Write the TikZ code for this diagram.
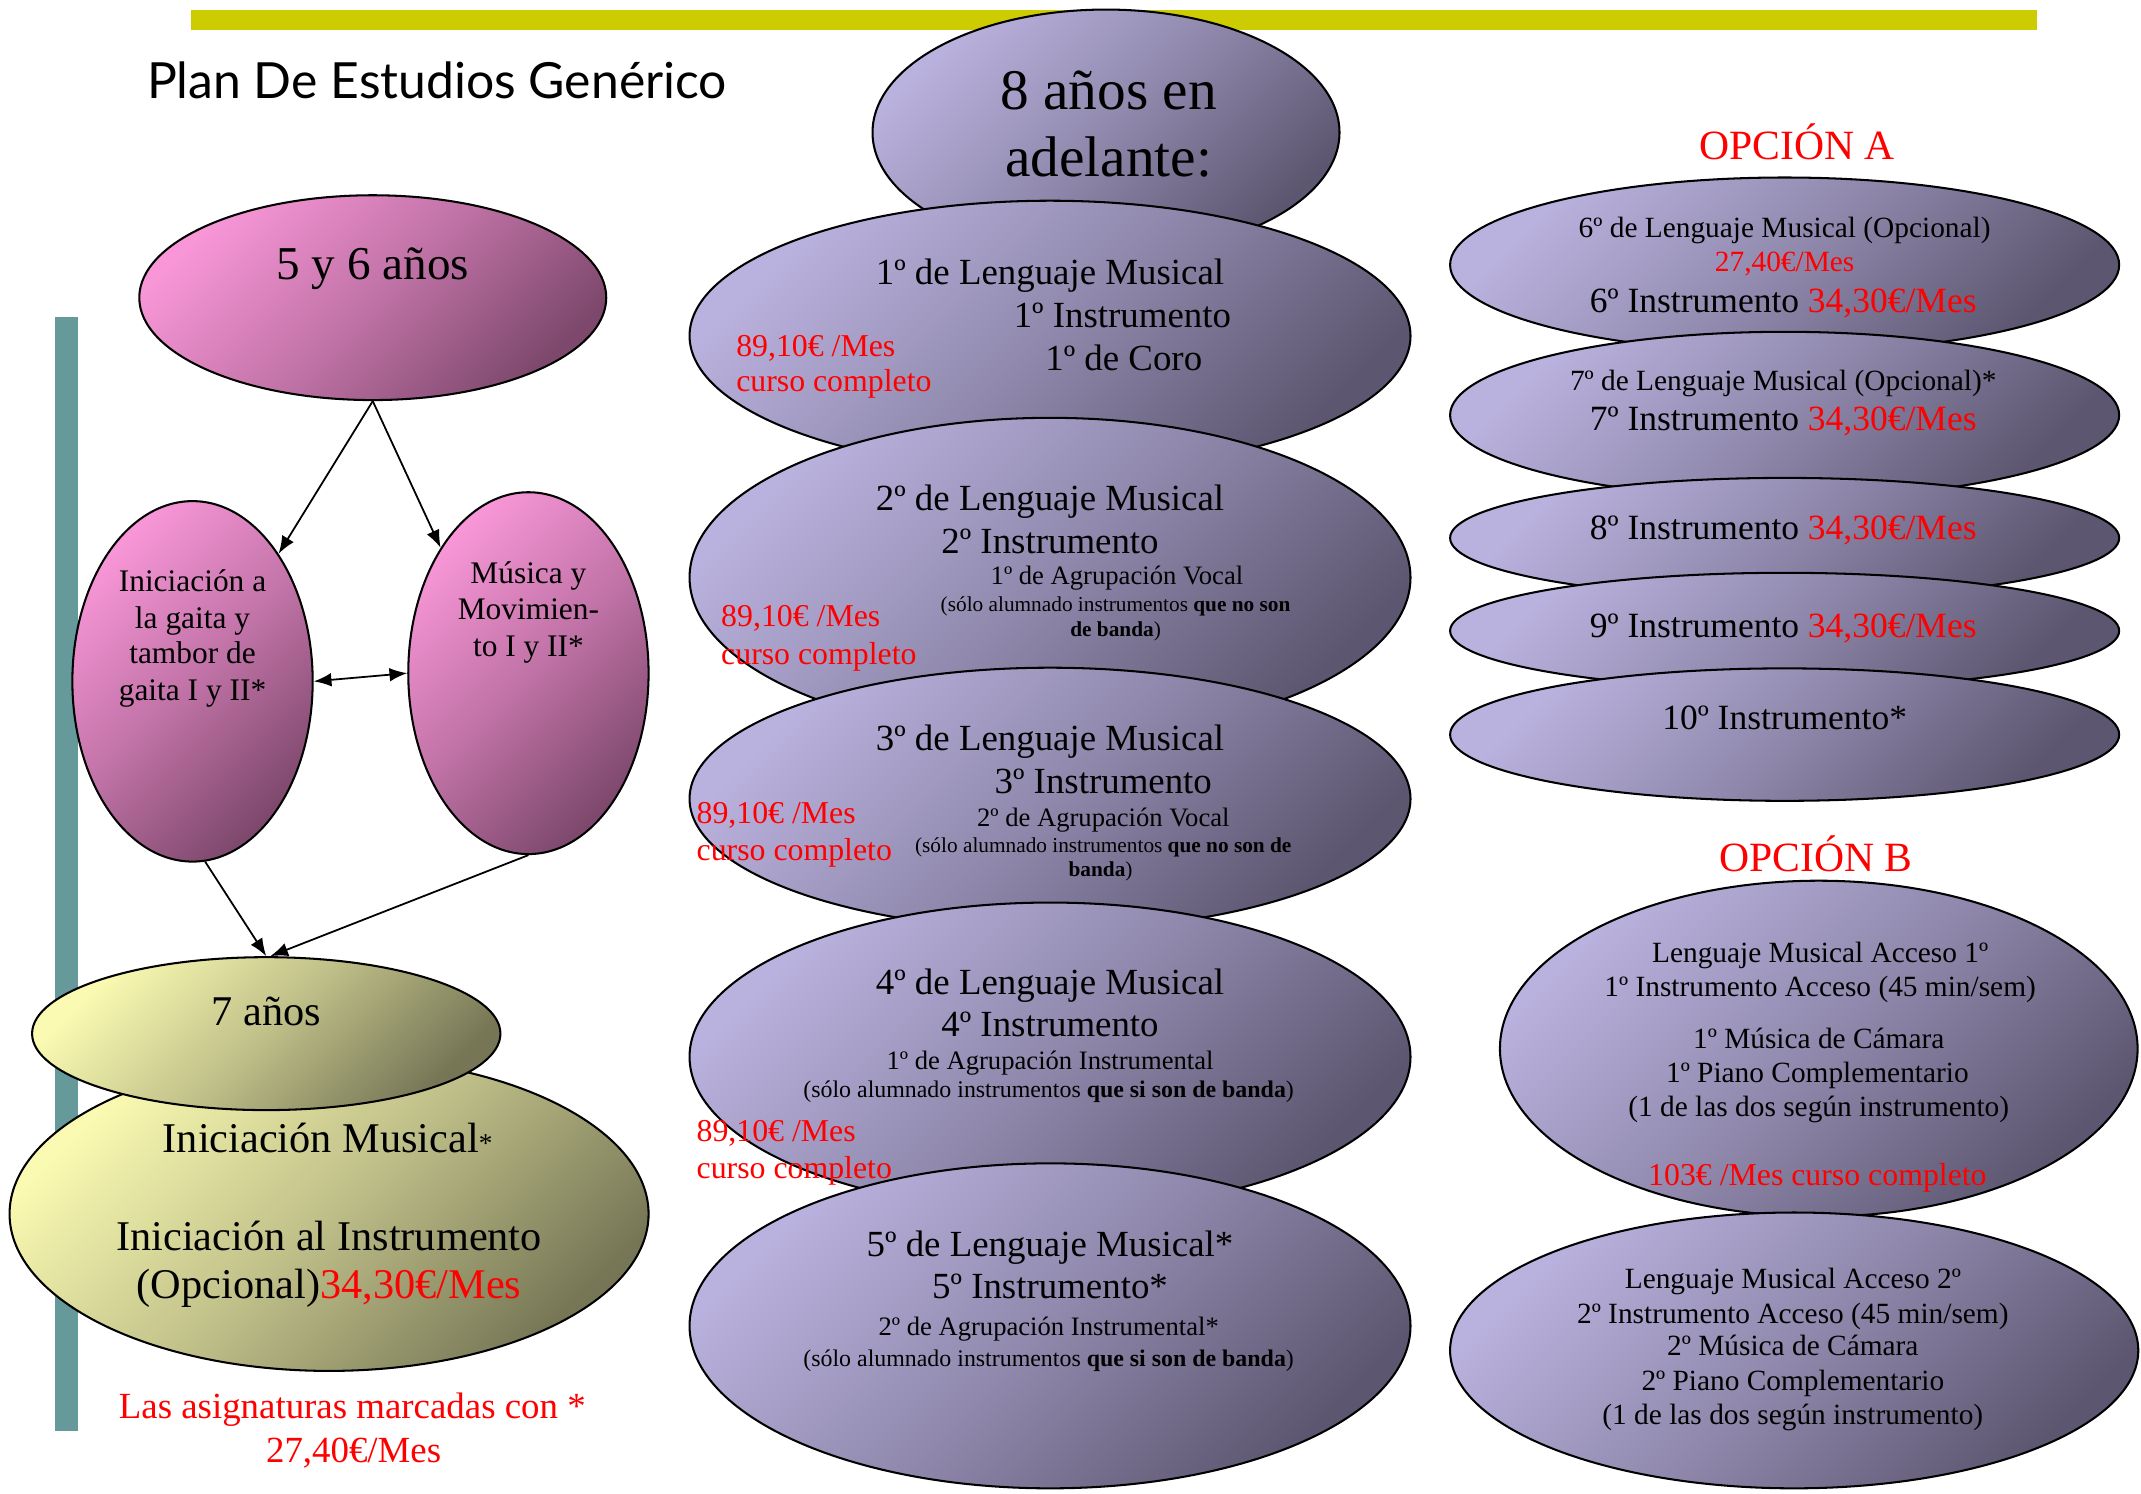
\documentclass[tikz,border=0pt]{standalone}
\usepackage{fontspec}
\setmainfont{Liberation Serif}
\newfontfamily\titlefont{Lato}
\usetikzlibrary{shapes.geometric,arrows.meta}
\definecolor{pinkL}{RGB}{248,150,215}
\definecolor{pinkD}{RGB}{125,72,108}
\definecolor{purL}{RGB}{186,178,222}
\definecolor{purD}{RGB}{92,86,112}
\definecolor{yelL}{RGB}{250,250,178}
\definecolor{yelD}{RGB}{118,118,86}
\definecolor{barY}{RGB}{204,204,0}
\definecolor{tealB}{RGB}{102,153,153}
\definecolor{redT}{RGB}{255,0,0}
\newcommand\myfs[1]{\fontsize{#1}{#1}\selectfont}
\tikzset{
  ell/.style={ellipse, draw=black, line width=1.5pt, inner sep=0pt},
  pinkE/.style={ell, top color=pinkL, bottom color=pinkD, middle color=pinkL!55!pinkD, shading angle=45},
  purE/.style={ell, top color=purL, bottom color=purD, middle color=purL!55!purD, shading angle=45},
  yelE/.style={ell, top color=yelL, bottom color=yelD, middle color=yelL!55!yelD, shading angle=45},
  t/.style={anchor=base, inner sep=0pt, align=center},
  tl/.style={anchor=base west, inner sep=0pt, text=redT, font=\myfs{23.3}},
  big/.style={font=\myfs{27}},
  mid/.style={font=\myfs{21.5}},
  sml/.style={font=\myfs{19.5}},
  tiny/.style={font=\myfs{15.6}},
  tinyb/.style={font=\myfs{17.5}},
  opt/.style={font=\myfs{26}},
  arr/.style={line width=1.3pt, -{Latex[length=13pt,width=10pt]}},
  arrb/.style={line width=1.3pt, {Latex[length=13pt,width=10pt]}-{Latex[length=13pt,width=10pt]}},
}
\begin{document}
\begin{tikzpicture}[x=1pt,y=-1pt]
\useasboundingbox (0,0) rectangle (1568,1094);
% bars
\fill[barY] (140,7) rectangle (1492,22);
\fill[tealB] (40,232) rectangle (57,1048);
\node[t, font=\titlefont\myfs{36.5}] (title) at (320,72) {Plan De Estudios Genérico};
% left part
\node[pinkE, minimum width=342pt, minimum height=150pt] (s56) at (273,218) {};
\node[pinkE, minimum width=176pt, minimum height=264pt] (L) at (141,499) {};
\node[pinkE, minimum width=176pt, minimum height=265pt] (R) at (387,493) {};
\node[yelE, minimum width=468pt, minimum height=230pt] (IM) at (241,889) {};
\node[yelE, minimum width=343pt, minimum height=112pt] (a7) at (195,757) {};
% middle column
\node[purE, minimum width=342pt, minimum height=180pt] (a8) at (810,97) {};
\node[purE, minimum width=528pt, minimum height=198pt] (E1) at (769,246) {};
\node[purE, minimum width=528pt, minimum height=234pt] (E2) at (769,423) {};
\node[purE, minimum width=528pt, minimum height=192pt] (E3) at (769,585) {};
\node[purE, minimum width=528pt, minimum height=226pt] (E4) at (769,774) {};
\node[purE, minimum width=528pt, minimum height=238pt] (E5) at (769,971) {};
% option A
\node[purE, minimum width=490pt, minimum height=128pt] (A1) at (1307,194) {};
\node[purE, minimum width=490pt, minimum height=122pt] (A2) at (1307,304) {};
\node[purE, minimum width=490pt, minimum height=88pt] (A3) at (1307,394) {};
\node[purE, minimum width=490pt, minimum height=85pt] (A4) at (1307,462) {};
\node[purE, minimum width=490pt, minimum height=97pt] (A5) at (1307,538) {};
% option B
\node[purE, minimum width=467pt, minimum height=246pt] (B1) at (1332,768) {};
\node[purE, minimum width=504pt, minimum height=202pt] (B2) at (1314,989) {};
% arrows
\draw[arr] (s56.south) -- (L.56);
\draw[arr] (s56.south) -- (R.125);
\draw[arrb] (L.east) -- (R.west);
\draw[arr] (L.-86) -- (a7.north);
\draw[arr] (R.south) -- (a7.87);
% texts left
\node[t, font=\myfs{34.5}] (t56) at (273,205) {5 y 6 años};
\node[t, font=\myfs{23}] (tL1) at (141,433) {Iniciación a};
\node[t, font=\myfs{23}] (tL2) at (141,460) {la gaita y};
\node[t, font=\myfs{23}] (tL3) at (141,486) {tambor de};
\node[t, font=\myfs{23}] (tL4) at (141,513) {gaita I y II*};
\node[t, font=\myfs{23}] (tR1) at (387,427) {Música y};
\node[t, font=\myfs{23}] (tR2) at (387,454) {Movimien-};
\node[t, font=\myfs{23}] (tR3) at (387,481) {to I y II*};
\node[t, font=\myfs{31}] (t7) at (195,751) {7 años};
\node[t, font=\myfs{31}] (tIM1) at (240,844) {Iniciación Musical{\myfs{20}*}};
\node[t, font=\myfs{31}] (tIM2) at (241,916) {Iniciación al Instrumento};
\node[t, font=\myfs{31}] (tIM3) at (241,951) {(Opcional){\color{redT}34,30€/Mes}};
\node[t, font=\myfs{27}, text=redT] (note1) at (258,1039) {Las asignaturas marcadas con *};
\node[t, font=\myfs{27}, text=redT] (note2) at (259,1071) {27,40€/Mes};
% texts middle
\node[t, font=\myfs{42}] (t8a) at (812,80) {8 años en};
\node[t, font=\myfs{42}] (t8b) at (812,129) {adelante:};
\node[t, big] (e1a) at (769,208) {1º de Lenguaje Musical};
\node[t, big] (e1b) at (822,240) {1º Instrumento};
\node[t, big] (e1c) at (823,271) {1º de Coro};
\node[tl] (r1a) at (539,261) {89,10€ /Mes};
\node[tl] (r1b) at (539,287) {curso completo};
\node[t, big] (e2a) at (769,374) {2º de Lenguaje Musical};
\node[t, big] (e2b) at (769,405) {2º Instrumento};
\node[t, sml] (e2c) at (818,428) {1º de Agrupación Vocal};
\node[t, tiny] (e2d) at (817,448) {(sólo alumnado instrumentos \textbf{que no son}};
\node[t, tiny] (e2e) at (817,466) {\textbf{de banda})};
\node[tl] (r2a) at (528,459) {89,10€ /Mes};
\node[tl] (r2b) at (528,487) {curso completo};
\node[t, big] (e3a) at (769,550) {3º de Lenguaje Musical};
\node[t, big] (e3b) at (808,581) {3º Instrumento};
\node[t, sml] (e3c) at (808,605) {2º de Agrupación Vocal};
\node[t, tiny] (e3d) at (808,624) {(sólo alumnado instrumentos \textbf{que no son de}};
\node[t, tiny] (e3e) at (806,642) {\textbf{banda})};
\node[tl] (r3a) at (510,603) {89,10€ /Mes};
\node[tl] (r3b) at (510,630) {curso completo};
\node[t, big] (e4a) at (769,728) {4º de Lenguaje Musical};
\node[t, big] (e4b) at (769,759) {4º Instrumento};
\node[t, sml] (e4c) at (769,783) {1º de Agrupación Instrumental};
\node[t, tinyb] (e4d) at (768,804) {(sólo alumnado instrumentos \textbf{que si son de banda})};
\node[tl] (r4a) at (510,836) {89,10€ /Mes};
\node[tl] (r4b) at (510,863) {curso completo};
\node[t, big] (e5a) at (769,920) {5º de Lenguaje Musical*};
\node[t, big] (e5b) at (769,951) {5º Instrumento*};
\node[t, sml] (e5c) at (768,978) {2º de Agrupación Instrumental*};
\node[t, tinyb] (e5d) at (768,1001) {(sólo alumnado instrumentos \textbf{que si son de banda})};
% option A texts
\node[t, font=\myfs{30.5}, text=redT] (oa) at (1316,117) {OPCIÓN A};
\node[t, mid] (a1a) at (1307,174) {6º de Lenguaje Musical (Opcional)};
\node[t, mid, text=redT] (a1b) at (1307,199) {27,40€/Mes};
\node[t, opt] (a1c) at (1306,229) {6º Instrumento {\color{redT}34,30€/Mes}};
\node[t, mid] (a2a) at (1306,286) {7º de Lenguaje Musical (Opcional)*};
\node[t, opt] (a2b) at (1306,315) {7º Instrumento {\color{redT}34,30€/Mes}};
\node[t, opt] (a3a) at (1306,395) {8º Instrumento {\color{redT}34,30€/Mes}};
\node[t, opt] (a4a) at (1306,467) {9º Instrumento {\color{redT}34,30€/Mes}};
\node[t, opt] (a5a) at (1307,534) {10º Instrumento*};
% option B texts
\node[t, font=\myfs{30.5}, text=redT] (ob) at (1330,638) {OPCIÓN B};
\node[t, mid] (b1a) at (1333,705) {Lenguaje Musical Acceso 1º};
\node[t, mid] (b1b) at (1333,730) {1º Instrumento Acceso (45 min/sem)};
\node[t, mid] (b1c) at (1332,768) {1º Música de Cámara};
\node[t, mid] (b1d) at (1331,793) {1º Piano Complementario};
\node[t, mid] (b1e) at (1332,818) {(1 de las dos según instrumento)};
\node[t, font=\myfs{23.3}, text=redT] (b1f) at (1331,868) {103€ /Mes curso completo};
\node[t, mid] (b2a) at (1313,944) {Lenguaje Musical Acceso 2º};
\node[t, mid] (b2b) at (1313,969) {2º Instrumento Acceso (45 min/sem)};
\node[t, mid] (b2c) at (1313,993) {2º Música de Cámara};
\node[t, mid] (b2d) at (1313,1018) {2º Piano Complementario};
\node[t, mid] (b2e) at (1313,1043) {(1 de las dos según instrumento)};
\end{tikzpicture}
\end{document}
